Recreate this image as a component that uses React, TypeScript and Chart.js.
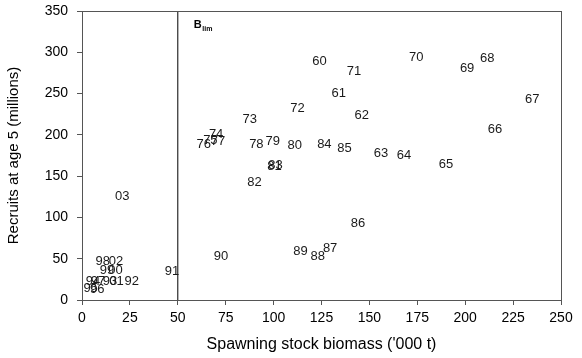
import React, { useEffect, useRef } from "react";
import { Chart, registerables } from "chart.js";

Chart.register(...registerables);

const years = ["60","61","62","63","64","65","66","67","68","69","70","71","72","73","74","75","76","77","78","79","80","81","82","83","84","85","86","87","88","89","90","91","92","93","94","95","96","97","98","99","00","01","02","03"];
const ssb = [124,134,146,156,168,190,215.5,235,211.5,201,174.5,142,112.5,87.5,70,67,63.5,71,91,99.5,111,100.5,90,101,126.5,137,144,129.5,123,114,72.5,47,26,14.6,5.7,4.5,8,8.3,10.8,13,17.5,18,17.7,21];
const recruits = [289,250,224,177,175,164,206,243,293,281,294,277,232,219,201,193.5,188,192,189,192,187,162,142.5,163,188,184,92.7,62,53,59,53,34.8,22.6,22.6,22,14.4,13.4,22,46.6,36.4,36.4,22.6,46.6,126];
const blimValue = 50;
const xTicks = [0,25,50,75,100,125,150,175,200,225,250];
const yTicks = [0,50,100,150,200,250,300,350];

const FONT = "'Liberation Sans', Arial, sans-serif";

const labelPlugin = {
  id: "yearLabels",
  afterDatasetsDraw(chart: any) {
    const ctx = chart.ctx;
    const meta = chart.getDatasetMeta(0);
    ctx.save();
    ctx.font = `13px ${FONT}`;
    ctx.fillStyle = "#1a1a1a";
    ctx.textAlign = "center";
    ctx.textBaseline = "middle";
    meta.data.forEach((el: any, i: number) => {
      ctx.fillText(years[i], el.x, el.y);
    });
    // B_lim label
    const xs = chart.scales.x;
    const ys = chart.scales.y;
    const bx = xs.getPixelForValue(blimValue) + 16;
    const by = ys.getPixelForValue(330);
    ctx.textAlign = "left";
    ctx.textBaseline = "alphabetic";
    ctx.fillStyle = "#000";
    ctx.font = `bold 11px ${FONT}`;
    ctx.fillText("B", bx, by);
    const w = ctx.measureText("B").width;
    ctx.font = `bold 7px ${FONT}`;
    ctx.fillText("lim", bx + w + 0.5, by + 3);
    // frame
    const a = chart.chartArea;
    ctx.strokeStyle = "#555";
    ctx.lineWidth = 1;
    ctx.strokeRect(Math.round(a.left) + 0.5, Math.round(a.top) + 0.5, Math.round(a.right - a.left), Math.round(a.bottom - a.top));
    ctx.restore();
  },
};

export default function App() {
  const ref = useRef<HTMLCanvasElement>(null);
  useEffect(() => {
    const canvas = ref.current!;
    const chart = new Chart(canvas, {
      type: "scatter",
      data: {
        datasets: [
          {
            data: ssb.map((x, i) => ({ x, y: recruits[i] })),
            pointRadius: 0,
            pointHoverRadius: 0,
            showLine: false,
          },
          {
            type: "line",
            data: [
              { x: blimValue, y: 0 },
              { x: blimValue, y: 350 },
            ],
            borderColor: "#000",
            borderWidth: 1,
            pointRadius: 0,
            showLine: true,
          },
        ],
      } as any,
      options: {
        animation: false,
        responsive: false,
        maintainAspectRatio: false,
        layout: { padding: { left: 0, right: 21, top: 11, bottom: 0 } },
        plugins: { legend: { display: false }, tooltip: { enabled: false } },
        scales: {
          x: {
            type: "linear",
            min: 0,
            max: 250,
            afterBuildTicks: (s: any) => { s.ticks = xTicks.map((v) => ({ value: v })); },
            afterFit: (s: any) => { s.height = 58; },
            grid: { drawOnChartArea: false, drawTicks: true, tickLength: 5, color: "#555" },
            border: { color: "#555" },
            ticks: { color: "#000", font: { family: FONT, size: 14 }, padding: 5, maxRotation: 0 },
            title: { display: true, text: "Spawning stock biomass ('000 t)", color: "#000", font: { family: FONT, size: 16 }, padding: { top: 0, bottom: 4 } },
          },
          y: {
            type: "linear",
            min: 0,
            max: 350,
            afterBuildTicks: (s: any) => { s.ticks = yTicks.map((v) => ({ value: v })); },
            afterFit: (s: any) => { s.width = 82; s.paddingTop = 0; s.paddingBottom = 0; },
            grid: { drawOnChartArea: false, drawTicks: true, tickLength: 5, color: "#555" },
            border: { color: "#555" },
            ticks: { color: "#000", font: { family: FONT, size: 14 }, padding: 9 },
            title: { display: true, text: "Recruits at age 5 (millions)", color: "#000", font: { family: FONT, size: 15 }, padding: { top: 5, bottom: 0 } },
          },
        },
      },
      plugins: [labelPlugin],
    });
    return () => chart.destroy();
  }, []);
  return (
    <div style={{ position: "fixed", left: 0, top: 0, width: 582, height: 358, background: "#fff" }}>
      <canvas ref={ref} width={582} height={358} style={{ width: 582, height: 358 }} />
    </div>
  );
}
